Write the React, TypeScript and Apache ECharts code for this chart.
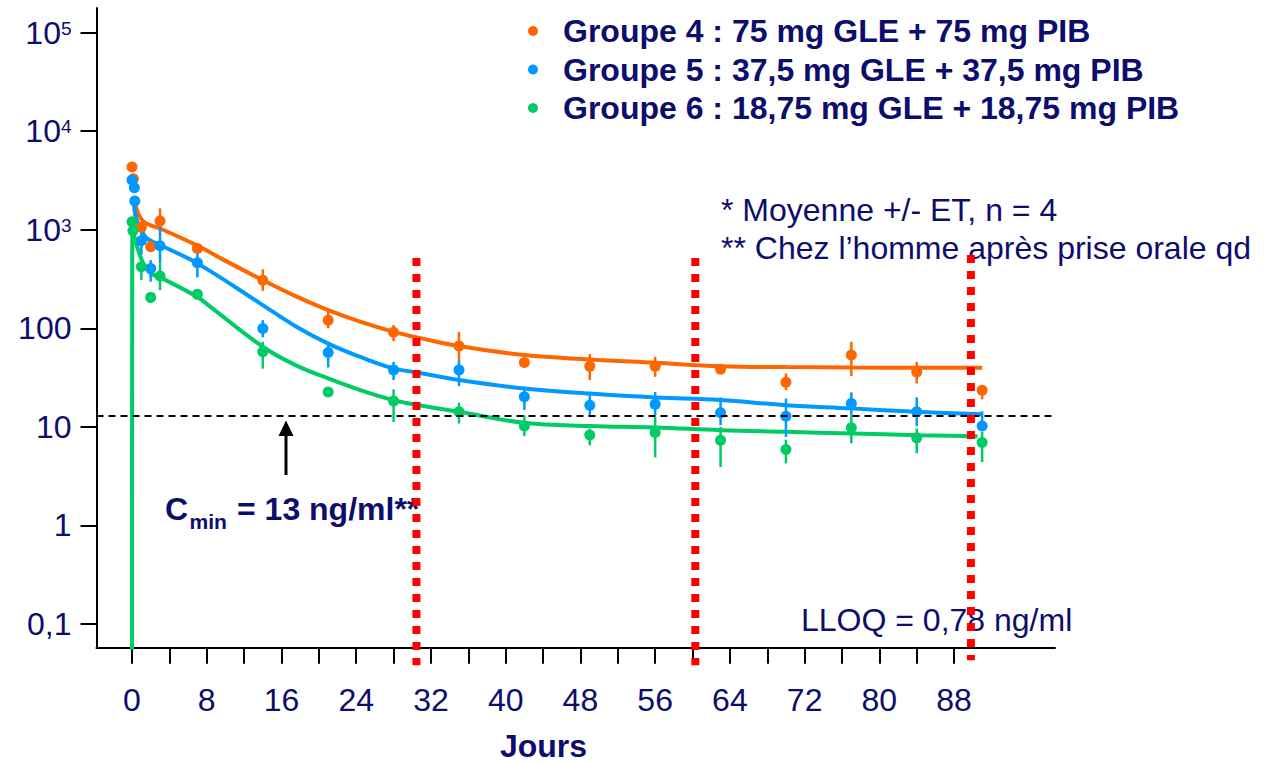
import React, { useEffect, useRef } from 'react';
import * as echarts from 'echarts';

const NAVY = '#0d0d6e';
const ORANGE = '#ff6600';
const BLUE = '#0099ff';
const GREEN = '#00cc66';
const RED = '#ff0000';
const FONT = '"Liberation Sans", Arial, sans-serif';
const FS = 32;

const groupNames = [
  'Groupe 4 : 75 mg GLE + 75 mg PIB',
  'Groupe 5 : 37,5 mg GLE + 37,5 mg PIB',
  'Groupe 6 : 18,75 mg GLE + 18,75 mg PIB',
];

const xTickValues = [0, 4, 8, 12, 16, 20, 24, 28, 32, 36, 40, 44, 48, 52, 56, 60, 64, 68, 72, 76, 80, 84, 88];
const xLabelValues = [0, 8, 16, 24, 32, 40, 48, 56, 64, 72, 80, 88];
const yTickValues = [0.1, 1, 10, 100, 1000, 10000, 100000];

// mean points [day, ng/ml]
const orangePoints = [
  [0, 4330], [0.15, 3300], [1, 1060], [2, 671], [3, 1224], [7, 647], [14, 308], [21, 121],
  [28, 91], [35, 66], [42, 45], [49, 41.3], [56, 41.3], [63, 38.5], [70, 28.3], [77, 53.5],
  [84, 36.1], [91, 23.5],
];
const bluePoints = [
  [0, 3200], [0.25, 2670], [0.3, 1955], [1, 773], [2, 405], [3, 689], [7, 462], [14, 99.8],
  [21, 56.9], [28, 37.7], [35, 37.7], [42, 20.2], [49, 16.6], [56, 17.0], [63, 13.9], [70, 12.8],
  [77, 17.3], [84, 14.2], [91, 10.2],
];
const greenPoints = [
  [0, 1206], [0.1, 977], [1, 421], [2, 206], [3, 339], [7, 221], [14, 57.7], [21, 22.6],
  [28, 18.3], [35, 14.2], [42, 10.2], [49, 8.25], [56, 8.77], [63, 7.33], [70, 5.89], [77, 9.77],
  [84, 7.73], [91, 6.93],
];

// error bars [day, low, high]
const orangeErr = [
  [2, 600, 750], [3, 993, 1648], [14, 240, 396], [21, 100, 157], [28, 74, 108], [35, 47.5, 92],
  [49, 29.8, 54.7], [56, 32.2, 51.4], [70, 23.6, 34.8], [77, 32.7, 73], [84, 27.5, 45.7], [91, 19, 26],
];
const blueErr = [
  [1, 560, 960], [2, 297, 492], [3, 456, 1057], [7, 329, 575], [14, 81, 121], [21, 40, 73],
  [28, 29.8, 45.7], [35, 25.9, 47.5], [42, 14.8, 23.6], [49, 12.9, 21], [56, 13.1, 22.6],
  [63, 10.4, 19.9], [70, 7.9, 19.4], [77, 13.1, 22.4], [84, 10.2, 19.9], [91, 9.2, 14.4],
];
const greenErr = [
  [1, 310, 480], [3, 244, 456], [14, 39, 73], [28, 11.2, 24], [35, 10.8, 17.6], [42, 8.06, 13.1],
  [49, 6.5, 9.6], [56, 4.9, 12.6], [63, 3.9, 10], [70, 4.25, 7.4], [77, 6.8, 13.1], [84, 5.4, 9.6],
  [91, 4.4, 8.9],
];

// fitted curves
const orangeFit = [
  [0.25, 2000], [0.4, 1750], [0.75, 1400], [1.3, 1200], [2, 1110], [3, 1030], [7, 690], [9.5, 513],
  [14, 308], [17.5, 212], [21, 153], [24.5, 116], [28, 92], [31, 79], [35, 66], [42, 53.5],
  [49, 48.3], [56, 44.7], [63, 41.3], [70, 40.4], [77, 40], [84, 39.8], [91, 39.7],
];
const blueFit = [
  [0.2, 2000], [0.4, 1355], [1, 993], [1.6, 818], [3, 700], [7, 456], [14, 172], [17.5, 105],
  [21, 70], [24.5, 51], [28, 39.2], [31, 35], [35, 29.9], [42, 24.5], [49, 21.8], [56, 19.9],
  [63, 18.7], [70, 16.6], [77, 15.4], [84, 14.2], [91, 13.4],
];
const greenFit = [
  [0, 0.03], [0.03, 1110], [0.4, 755], [1.2, 456], [2, 361], [2.9, 333], [7, 208], [8.4, 165],
  [14, 65], [17.5, 42.3], [21, 31], [24.5, 23.5], [28, 18.7], [31, 16.4], [35, 14.2], [42, 11.0],
  [49, 10.2], [56, 9.86], [63, 9.25], [70, 8.9], [77, 8.57], [84, 8.24], [90.5, 8.05],
];

const redLineDays = [30.45, 60.3, 89.8];
const redLineTop = [516, 516, 554];
const redLineBottom = [0.038, 0.038, 0.0427];
const cminValue = 13;

const errSeries = (name: string, data: number[][], color: string) => ({
  type: 'custom',
  name,
  z: 3,
  silent: true,
  data,
  encode: { x: 0, y: [1, 2] },
  renderItem: (params: any, api: any) => {
    const p1 = api.coord([api.value(0), api.value(1)]);
    const p2 = api.coord([api.value(0), api.value(2)]);
    return {
      type: 'line',
      shape: { x1: p1[0], y1: p1[1], x2: p2[0], y2: p2[1] },
      style: { stroke: color, lineWidth: 2.5 },
    };
  },
});

const fitSeries = (name: string, data: number[][], color: string, extra: any = {}) => ({
  type: 'line',
  name,
  data,
  smooth: 0.4,
  showSymbol: false,
  symbol: 'none',
  clip: true,
  z: 2,
  silent: true,
  lineStyle: { color, width: 4 },
  ...extra,
});

const scatterSeries = (name: string, data: number[][], color: string) => ({
  type: 'scatter',
  name,
  data,
  symbol: 'circle',
  symbolSize: 11,
  z: 4,
  silent: true,
  itemStyle: { color, opacity: 1 },
});

export default function App() {
  const ref = useRef<HTMLDivElement>(null);
  useEffect(() => {
    if (!ref.current) return;
    const chart = echarts.init(ref.current, undefined, { renderer: 'svg' });
    const option: any = {
      animation: false,
      backgroundColor: '#ffffff',
      textStyle: { fontFamily: FONT },
      grid: { left: 96.5, right: 221, top: 8, bottom: 115.3, containLabel: false, outerBoundsMode: 'none' },
      legend: {
        data: groupNames,
        orient: 'vertical',
        left: 528,
        top: 15,
        padding: 0,
        itemGap: 6.5,
        itemWidth: 50,
        itemHeight: 10,
        icon: 'circle',
        selectedMode: false,
        textStyle: { color: NAVY, fontSize: FS, fontWeight: 'bold', fontFamily: FONT },
      },
      xAxis: {
        type: 'value',
        min: -3.8,
        max: 98.8,
        splitLine: { show: false },
        axisLine: { show: true, onZero: false, lineStyle: { color: '#000', width: 2 } },
        axisTick: { show: true, inside: false, length: 16, lineStyle: { color: '#000', width: 2 }, customValues: xTickValues },
        axisLabel: { show: true, margin: 36, color: NAVY, fontSize: FS, fontFamily: FONT, customValues: xLabelValues },
      },
      yAxis: {
        type: 'log',
        logBase: 10,
        min: 0.0574,
        max: 178000,
        splitLine: { show: false },
        axisLine: { show: true, onZero: false, lineStyle: { color: '#000', width: 2 } },
        axisTick: { show: true, inside: false, length: 16, lineStyle: { color: '#000', width: 2 }, customValues: yTickValues },
        axisLabel: {
          show: true,
          margin: 25,
          color: NAVY,
          fontSize: FS,
          fontFamily: FONT,
          customValues: yTickValues,
          formatter: (v: number) => {
            if (v >= 999) {
              const e = Math.round(Math.log10(v));
              return '{b|10}{s|' + e + '}';
            }
            if (v < 1) return v.toFixed(1).replace('.', ',');
            return String(Math.round(v));
          },
          rich: {
            b: { fontSize: FS, color: NAVY, fontFamily: FONT },
            s: { fontSize: 19, color: NAVY, fontFamily: FONT, verticalAlign: 'top', padding: [2, 0, 0, 0] },
          },
        },
      },
      graphic: [
        { type: 'text', x: 721, y: 210, style: { text: '* Moyenne +/- ET, n = 4', fill: NAVY, fontSize: FS, fontFamily: FONT, textVerticalAlign: 'middle' } },
        { type: 'text', x: 721, y: 248, style: { text: '** Chez l\u2019homme apr\u00e8s prise orale qd', fill: NAVY, fontSize: FS, fontFamily: FONT, textVerticalAlign: 'middle' } },
        { type: 'text', x: 801, y: 620, style: { text: 'LLOQ = 0,78 ng/ml', fill: NAVY, fontSize: FS, fontFamily: FONT, textVerticalAlign: 'middle' } },
        { type: 'text', x: 543.5, y: 746, style: { text: 'Jours', fill: NAVY, fontSize: FS, fontWeight: 'bold', fontFamily: FONT, textAlign: 'center', textVerticalAlign: 'middle' } },
        { type: 'text', x: 165, y: 509, style: { text: 'C', fill: NAVY, fontSize: FS, fontWeight: 'bold', fontFamily: FONT, textVerticalAlign: 'middle' } },
        { type: 'text', x: 189.5, y: 521.5, style: { text: 'min', fill: NAVY, fontSize: 21, fontWeight: 'bold', fontFamily: FONT, textVerticalAlign: 'middle' } },
        { type: 'text', x: 237, y: 509, style: { text: '= 13 ng/ml**', fill: NAVY, fontSize: FS, fontWeight: 'bold', fontFamily: FONT, textVerticalAlign: 'middle' } },
        { type: 'line', shape: { x1: 286, y1: 475, x2: 286, y2: 434 }, style: { stroke: '#000', lineWidth: 3 } },
        { type: 'polygon', shape: { points: [[278.5, 436], [293.5, 436], [286, 420.5]] }, style: { fill: '#000' } },
      ],
      series: [
        fitSeries('fit4', orangeFit, ORANGE),
        fitSeries('fit5', blueFit, BLUE),
        fitSeries('fit6', greenFit, GREEN, {
          markLine: {
            silent: true,
            symbol: 'none',
            label: { show: false },
            lineStyle: { color: '#000', type: [7, 5], width: 2 },
            data: [{ yAxis: cminValue }],
          },
        }),
        errSeries('err4', orangeErr, ORANGE),
        errSeries('err5', blueErr, BLUE),
        errSeries('err6', greenErr, GREEN),
        scatterSeries(groupNames[0], orangePoints, ORANGE),
        scatterSeries(groupNames[1], bluePoints, BLUE),
        scatterSeries(groupNames[2], greenPoints, GREEN),
        {
          type: 'custom',
          name: 'limits',
          z: 10,
          silent: true,
          clip: false,
          data: redLineDays.map((d, i) => [d, redLineTop[i], redLineBottom[i]]),
          encode: { x: 0, y: [1, 2] },
          renderItem: (params: any, api: any) => {
            const p1 = api.coord([api.value(0), api.value(1)]);
            const p2 = api.coord([api.value(0), api.value(2)]);
            return {
              type: 'line',
              shape: { x1: p1[0], y1: p1[1], x2: p2[0], y2: p2[1] },
              style: { stroke: RED, lineWidth: 8, lineDash: [8, 8], lineCap: 'butt' },
            };
          },
        },
      ],
    };
    chart.setOption(option);
    return () => chart.dispose();
  }, []);
  return (
    <div
      ref={ref}
      style={{ position: 'fixed', left: 0, top: 0, width: 1276, height: 763, background: '#fff' }}
    />
  );
}
